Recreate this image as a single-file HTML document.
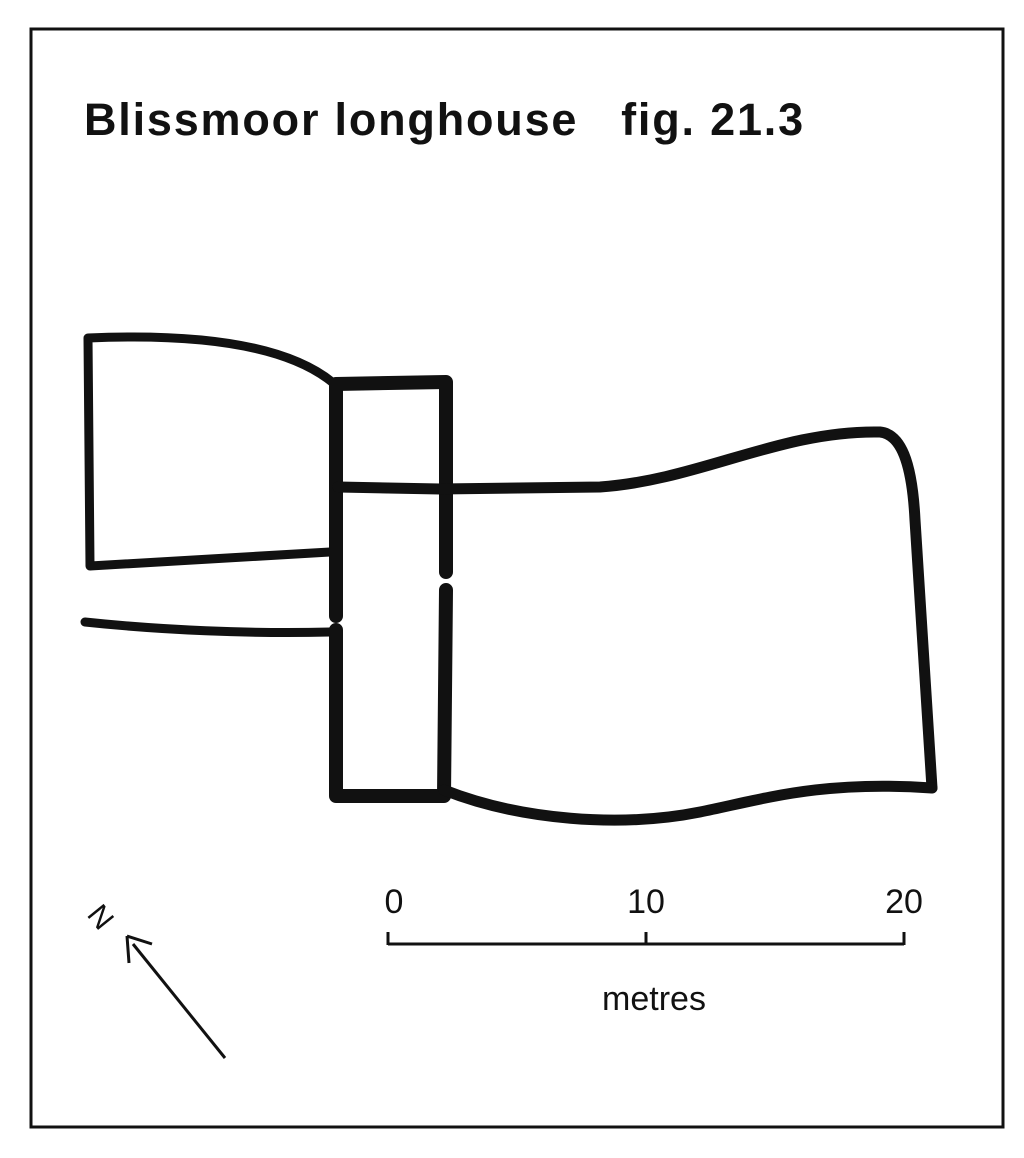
<!DOCTYPE html>
<html><head><meta charset="utf-8"><title>Blissmoor longhouse</title>
<style>
html,body{margin:0;padding:0;background:#fff;}
svg{display:block;}
text{font-family:"Liberation Sans",Arial,sans-serif;fill:#111;}
</style></head>
<body>
<svg id="fig" width="1024" height="1158" viewBox="0 0 1024 1158">
  <rect x="31" y="29" width="972" height="1098" fill="none" stroke="#111" stroke-width="3"/>
  <text x="84" y="135" font-size="45" font-weight="bold" letter-spacing="1.8">Blissmoor longhouse&#160;&#160; fig. 21.3</text>

  <g fill="none" stroke="#111" stroke-linecap="round" stroke-linejoin="round">
    <path d="M330,552 L90,566 L88,338 C180,334 280,340 332,382" stroke-width="9"/>
    <path d="M85,622 C160,630 250,634 330,632" stroke-width="9"/>
    <path d="M336,616 L336,384 L446,382 L446,572" stroke-width="14"/>
    <path d="M446,590 L444,796 L336,796 L336,630" stroke-width="14"/>
    <path d="M338,487 L440,489 L600,487 C700,480 780,430 880,432 C900,434 912,460 915,520 L932,788" stroke-width="11"/>
    <path d="M932,788 C820,780 760,800 700,812 C620,828 520,820 444,790" stroke-width="11"/>
  </g>

  <g id="scale"></g>

  <g>
    <line x1="225" y1="1058" x2="133" y2="944" stroke="#111" stroke-width="3"/>
    <path d="M127,936 L129,963 M127,936 L152,944" stroke="#111" stroke-width="3" fill="none"/>
    <text x="0" y="0" font-size="30" transform="translate(86,915) rotate(51)">N</text>
  </g>
</svg>
<script>
const scaleTicks = [0, 10, 20];
const scaleLabels = ["0", "10", "20"];
const scaleUnit = "metres";
(function(){
  const ns = "http://www.w3.org/2000/svg";
  const g = document.getElementById("scale");
  const x0 = 388, x1 = 904, y = 944;
  const max = scaleTicks[scaleTicks.length - 1];
  const sx = v => x0 + (v / max) * (x1 - x0);
  const base = document.createElementNS(ns, "line");
  base.setAttribute("x1", sx(0)); base.setAttribute("x2", sx(max));
  base.setAttribute("y1", y); base.setAttribute("y2", y);
  base.setAttribute("stroke", "#111"); base.setAttribute("stroke-width", "3");
  
  
  g.appendChild(base);
  scaleTicks.forEach((v, i) => {
    const t = document.createElementNS(ns, "line");
    t.setAttribute("x1", sx(v)); t.setAttribute("x2", sx(v));
    t.setAttribute("y1", y - 12); t.setAttribute("y2", y + 1);
    t.setAttribute("stroke", "#111"); t.setAttribute("stroke-width", "3");
    
    
    g.appendChild(t);
    const lb = document.createElementNS(ns, "text");
    lb.setAttribute("x", sx(v) + (i === 0 ? 6 : 0)); lb.setAttribute("y", 913);
    lb.setAttribute("font-size", "34"); lb.setAttribute("text-anchor", "middle");
    lb.textContent = scaleLabels[i];
    
    
    g.appendChild(lb);
  });
  const u = document.createElementNS(ns, "text");
  u.setAttribute("x", sx(max / 2) + 8); u.setAttribute("y", 1010);
  u.setAttribute("font-size", "34"); u.setAttribute("text-anchor", "middle");
  u.textContent = scaleUnit;
  
  
  g.appendChild(u);
})();
</script>
</body></html>
